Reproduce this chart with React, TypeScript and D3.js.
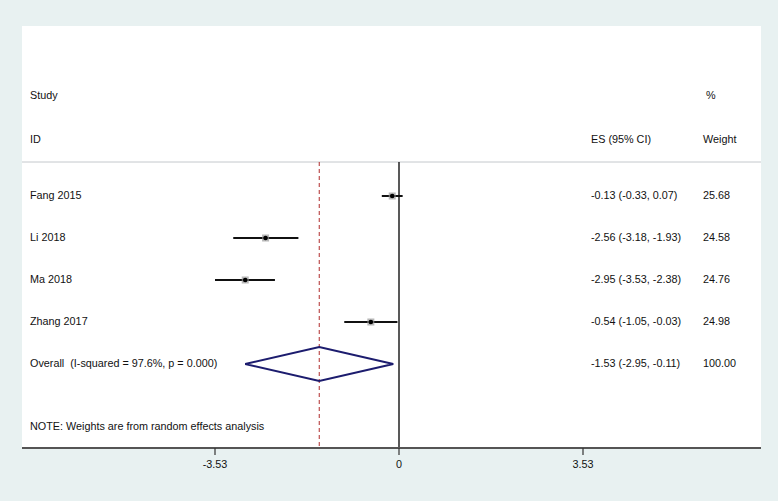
import React from "react";
import * as d3 from "d3";

const studies = ["Fang 2015", "Li 2018", "Ma 2018", "Zhang 2017"];
const es = [-0.13, -2.56, -2.95, -0.54];
const lower = [-0.33, -3.18, -3.53, -1.05];
const upper = [0.07, -1.93, -2.38, -0.03];
const weights = ["25.68", "24.58", "24.76", "24.98"];
const overallLabel = "Overall\u00a0\u00a0(I-squared = 97.6%, p = 0.000)";
const overall = { es: -1.53, lo: -2.95, hi: -0.11, weight: "100.00" };
const tickValues = [-3.53, 0, 3.53];
const tickLabels = ["-3.53", "0", "3.53"];
const note = "NOTE: Weights are from random effects analysis";

const W = 778;
const H = 501;
const FONT = "'Liberation Sans', Arial, Helvetica, sans-serif";

export default function App() {
  const x = d3.scaleLinear().domain([-3.53, 3.53]).range([215, 583]);
  const rowY = d3.scaleLinear().domain([0, 1]).range([196, 238]);
  const panel = { left: 22, right: 761, top: 26, bottom: 448 };
  const sepY = 162;
  const fmt = (v: number) => v.toFixed(2);
  const esText = (i: number) => `${fmt(es[i])} (${fmt(lower[i])}, ${fmt(upper[i])})`;
  const overallText = `${fmt(overall.es)} (${fmt(overall.lo)}, ${fmt(overall.hi)})`;
  const oy = rowY(studies.length);
  const dh = 17;
  const diamond = [
    [x(overall.lo), oy],
    [x(overall.es), oy - dh],
    [x(overall.hi), oy],
    [x(overall.es), oy + dh],
  ];
  const diamondPath = d3.line()(diamond as [number, number][]) + "Z";
  const fs = 10.8;

  return (
    <svg width={W} height={H} style={{ position: "absolute", left: 0, top: 0 }} fontFamily={FONT}>
      <rect x={0} y={0} width={W} height={H} fill="#e8f1f1" />
      <rect
        x={panel.left}
        y={panel.top}
        width={panel.right - panel.left}
        height={panel.bottom - panel.top}
        fill="#ffffff"
      />
      {/* headers */}
      <text x={30} y={96} fontSize={fs} dominantBaseline="middle" fill="#111">Study</text>
      <text x={30} y={140} fontSize={fs} dominantBaseline="middle" fill="#111">ID</text>
      <text x={706} y={96} fontSize={fs} dominantBaseline="middle" fill="#111">%</text>
      <text x={591} y={140} fontSize={fs} dominantBaseline="middle" fill="#111">ES (95% CI)</text>
      <text x={703} y={140} fontSize={fs} dominantBaseline="middle" fill="#111">Weight</text>
      <line x1={panel.left} x2={panel.right} y1={sepY} y2={sepY} stroke="#c4c8cc" strokeWidth={1} />

      {/* overall dashed line */}
      <line
        x1={x(overall.es)}
        x2={x(overall.es)}
        y1={sepY}
        y2={panel.bottom}
        stroke="#b02c2c"
        strokeWidth={1}
        strokeDasharray="4,3"
      />
      {/* null line */}
      <line x1={x(0)} x2={x(0)} y1={sepY} y2={panel.bottom} stroke="#222" strokeWidth={1.5} />

      {studies.map((s, i) => {
        const y = rowY(i);
        return (
          <g key={s}>
            <text x={30} y={y} fontSize={fs} dominantBaseline="middle" fill="#111">{s}</text>
            <line x1={x(lower[i])} x2={x(upper[i])} y1={y} y2={y} stroke="#111" strokeWidth={2} />
            <rect x={x(es[i]) - 3.5} y={y - 3.5} width={7} height={7} fill="#9a9a9a" opacity={0.7} />
            <circle cx={x(es[i])} cy={y} r={2.3} fill="#000" />
            <text x={591} y={y} fontSize={fs} dominantBaseline="middle" fill="#111">{esText(i)}</text>
            <text x={703} y={y} fontSize={fs} dominantBaseline="middle" fill="#111">{weights[i]}</text>
          </g>
        );
      })}

      {/* overall */}
      <text x={30} y={oy} fontSize={fs} dominantBaseline="middle" fill="#111">{overallLabel}</text>
      <path d={diamondPath} fill="none" stroke="#1c1c6e" strokeWidth={2} />
      <text x={591} y={oy} fontSize={fs} dominantBaseline="middle" fill="#111">{overallText}</text>
      <text x={703} y={oy} fontSize={fs} dominantBaseline="middle" fill="#111">{overall.weight}</text>

      <text x={30} y={427} fontSize={fs} dominantBaseline="middle" fill="#111">{note}</text>

      {/* axis */}
      <line x1={panel.left} x2={panel.right} y1={panel.bottom} y2={panel.bottom} stroke="#555" strokeWidth={2} />
      {tickValues.map((t, i) => (
        <g key={i}>
          <line x1={x(t)} x2={x(t)} y1={panel.bottom} y2={panel.bottom + 7} stroke="#333" strokeWidth={1.2} />
          <text x={x(t)} y={465} fontSize={fs} textAnchor="middle" dominantBaseline="middle" fill="#111">
            {tickLabels[i]}
          </text>
        </g>
      ))}
    </svg>
  );
}
